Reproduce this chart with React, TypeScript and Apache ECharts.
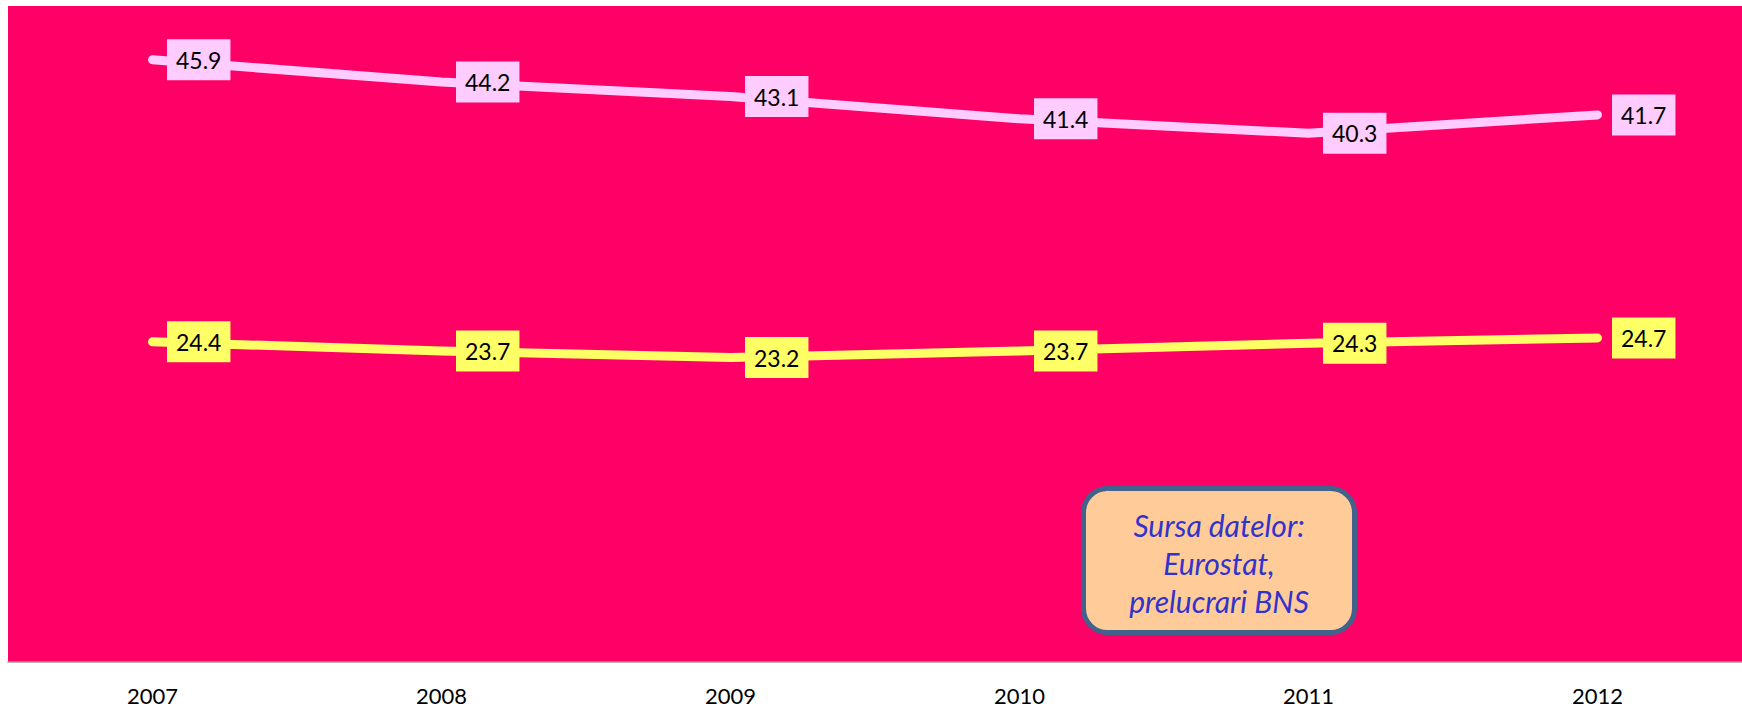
import React, { useEffect, useRef } from "react";
import * as echarts from "echarts";

const categories = ["2007", "2008", "2009", "2010", "2011", "2012"];
const upperValues = [45.9, 44.2, 43.1, 41.4, 40.3, 41.7];
const lowerValues = [24.4, 23.7, 23.2, 23.7, 24.3, 24.7];
const sourceLines = ["Sursa datelor:", "Eurostat,", "prelucrari BNS"];

const FONT = "Lato, 'Noto Sans', sans-serif";

function makeSeries(name: string, data: number[], color: string) {
  return {
    name,
    type: "line",
    data,
    symbol: "circle",
    symbolSize: 1,
    showSymbol: true,
    itemStyle: { color },
    lineStyle: { color, width: 9, cap: "round", join: "round" },
    label: {
      show: true,
      position: "right",
      distance: 14,
      formatter: (p: any) => Number(p.value).toFixed(1),
      backgroundColor: color,
      padding: [8, 9, 8, 9],
      color: "#000000",
      fontSize: 23,
      lineHeight: 25,
      fontFamily: FONT,
    },
    emphasis: { disabled: true },
    z: 2,
  };
}

export default function App() {
  const ref = useRef<HTMLDivElement>(null);

  useEffect(() => {
    document.body.style.margin = "0";
    if (!ref.current) return;
    const chart = echarts.init(ref.current, null, { renderer: "svg" });
    chart.setOption({
      animation: false,
      backgroundColor: "#ffffff",
      grid: {
        left: 8,
        right: 0,
        top: 6,
        bottom: 47,
        show: true,
        backgroundColor: "#FF0066",
        borderWidth: 0,
      },
      xAxis: {
        type: "category",
        data: categories,
        boundaryGap: true,
        axisTick: { show: false },
        axisLine: { show: true, lineStyle: { color: "#9a9a9a", width: 1.5 } },
        axisLabel: {
          color: "#000000",
          fontSize: 22,
          fontFamily: FONT,
          margin: 22,
        },
        splitLine: { show: false },
      },
      yAxis: {
        type: "value",
        min: 0,
        max: 50,
        show: false,
        splitLine: { show: false },
      },
      series: [
        makeSeries("Seria 1", upperValues, "#FFCCFF"),
        makeSeries("Seria 2", lowerValues, "#FFFF66"),
      ],
      graphic: [
        {
          type: "group",
          left: 1081,
          top: 486,
          z: 10,
          children: [
            {
              type: "rect",
              shape: { x: 2.5, y: 2.5, width: 271, height: 144, r: 24 },
              style: { fill: "#FFCC99", stroke: "#41638B", lineWidth: 5 },
            },
            {
              type: "text",
              x: 138,
              y: 77,
              style: {
                text: sourceLines.join("\n"),
                fill: "#3333CC",
                font: `italic 30px ${FONT}`,
                align: "center",
                verticalAlign: "middle",
                lineHeight: 38,
              },
            },
          ],
        },
      ],
    });
    return () => chart.dispose();
  }, []);

  return <div ref={ref} style={{ width: 1742, height: 709 }} />;
}
